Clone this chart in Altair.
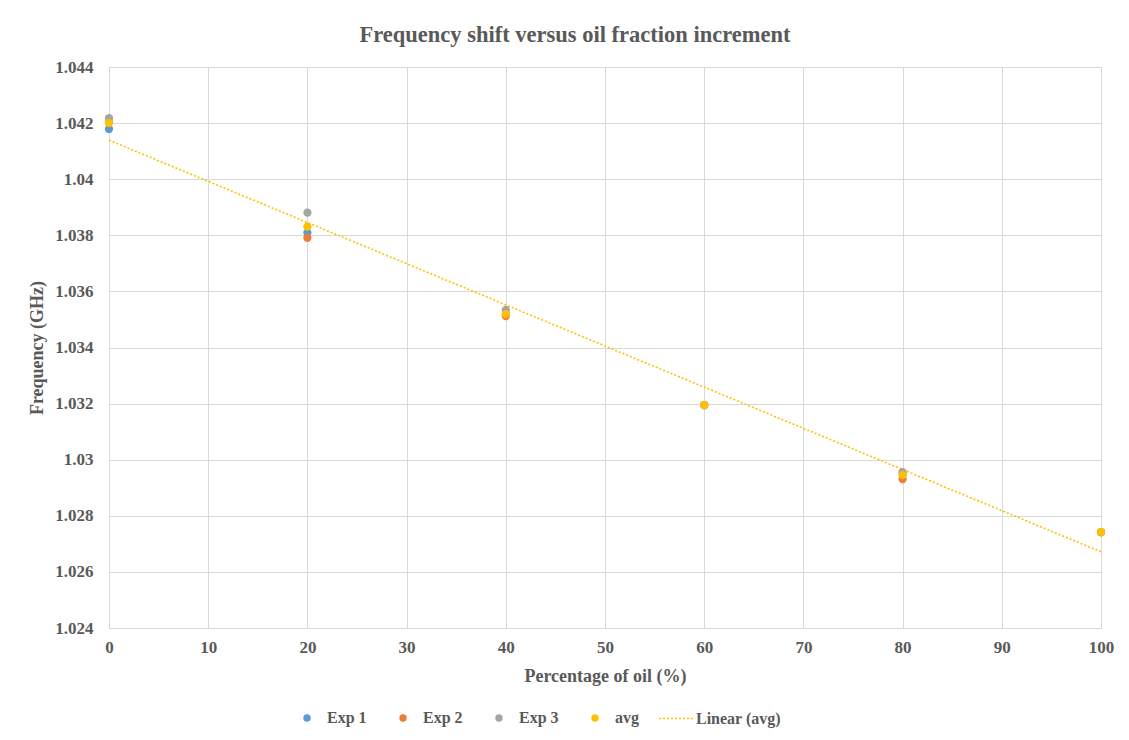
import altair as alt
import pandas as pd

# ---- data ----
oil_pct = [0, 20, 40, 60, 80, 100]
exp1 = [1.04179, 1.03809, 1.03520, 1.03195, 1.02950, 1.02742]
exp2 = [1.04203, 1.03791, 1.03512, 1.03195, 1.02931, 1.02742]
exp3 = [1.04218, 1.03881, 1.03534, 1.03195, 1.02956, 1.02742]
avg = [1.04200, 1.03831, 1.03519, 1.03195, 1.02945, 1.02742]

series_names = ["Exp 1", "Exp 2", "Exp 3", "avg"]
series_colors = ["#5B9BD5", "#ED7D31", "#A5A5A5", "#FFC000"]
trend_name = "Linear (avg)"

x_ticks = [0, 10, 20, 30, 40, 50, 60, 70, 80, 90, 100]
y_ticks = [1.024, 1.026, 1.028, 1.030, 1.032, 1.034, 1.036, 1.038, 1.040, 1.042, 1.044]

rows = []
order = 0
for name, vals in zip(series_names, [exp1, exp2, exp3, avg]):
    for xv, yv in zip(oil_pct, vals):
        rows.append({"oil": xv, "freq": yv, "series": name, "order": order})
        order += 1
df = pd.DataFrame(rows)
avg_df = pd.DataFrame({"oil": oil_pct, "freq": avg})

FONT = "Liberation Serif"
TXT = "#595959"
GRID = "#D9D9D9"

x_enc = alt.X(
    "oil:Q",
    scale=alt.Scale(domain=[0, 100], nice=False),
    axis=alt.Axis(values=x_ticks, title="Percentage of oil (%)", grid=True, labelFlush=False),
)
y_enc = alt.Y(
    "freq:Q",
    scale=alt.Scale(domain=[1.024, 1.044], nice=False, zero=False),
    axis=alt.Axis(values=y_ticks, format="~g", title="Frequency (GHz)", grid=True, labelFlush=False),
)

points = alt.Chart(df).mark_circle(size=68, opacity=1).encode(
    x=x_enc,
    y=y_enc,
    order=alt.Order("order:Q"),
    color=alt.Color(
        "series:N",
        scale=alt.Scale(domain=series_names, range=series_colors),
        legend=alt.Legend(
            title=None,
            orient="none",
            direction="horizontal",
            legendX=190,
            legendY=643,
            symbolType="circle",
            symbolSize=55,
            labelOffset=12,
            columnPadding=28,
            gridAlign="all",
            padding=0,
        ),
    ),
)

trend = (
    alt.Chart(avg_df)
    .transform_regression("oil", "freq", extent=[0, 100])
    .transform_calculate(trend=f"'{trend_name}'")
    .mark_line(strokeDash=[2, 2], strokeWidth=1.6)
    .encode(
        x=x_enc,
        y=y_enc,
        color=alt.Color(
            "trend:N",
            scale=alt.Scale(domain=[trend_name], range=["#FFC000"]),
            legend=alt.Legend(
                title=None,
                orient="none",
                direction="horizontal",
                legendX=549,
                legendY=633,
                symbolType="stroke",
                symbolSize=1225,
                symbolDash=[2, 2],
                symbolStrokeWidth=1.6,
                labelOffset=1,
                padding=0,
            ),
        ),
    )
)

chart = (
    alt.layer(trend, points)
    .resolve_scale(color="independent")
    .properties(
        width=992,
        height=561,
        padding={"left": 101, "top": 59, "right": 20, "bottom": 104},
        autosize=alt.AutoSizeParams(type="none"),
        title=alt.TitleParams(
            "Frequency shift versus oil fraction increment",
            font=FONT,
            fontSize=22.5,
            fontWeight="bold",
            color=TXT,
            anchor="middle",
            offset=12,
            dx=-30,
        ),
    )
    .configure_view(stroke=None)
    .configure_axis(
        labelFont=FONT,
        labelFontSize=17,
        labelFontWeight="bold",
        labelColor=TXT,
        titleFont=FONT,
        titleFontSize=18,
        titleFontWeight="bold",
        titleColor=TXT,
        gridColor=GRID,
        domainColor=GRID,
        ticks=False,
    )
    .configure_axisY(labelPadding=16, titlePadding=8)
    .configure_axisX(labelPadding=11, titlePadding=12)
    .configure_legend(
        labelFont=FONT,
        labelFontSize=16,
        labelFontWeight="bold",
        labelColor=TXT,
    )
)

chart.save("out.html", embed_options={"renderer": "svg", "actions": False})
